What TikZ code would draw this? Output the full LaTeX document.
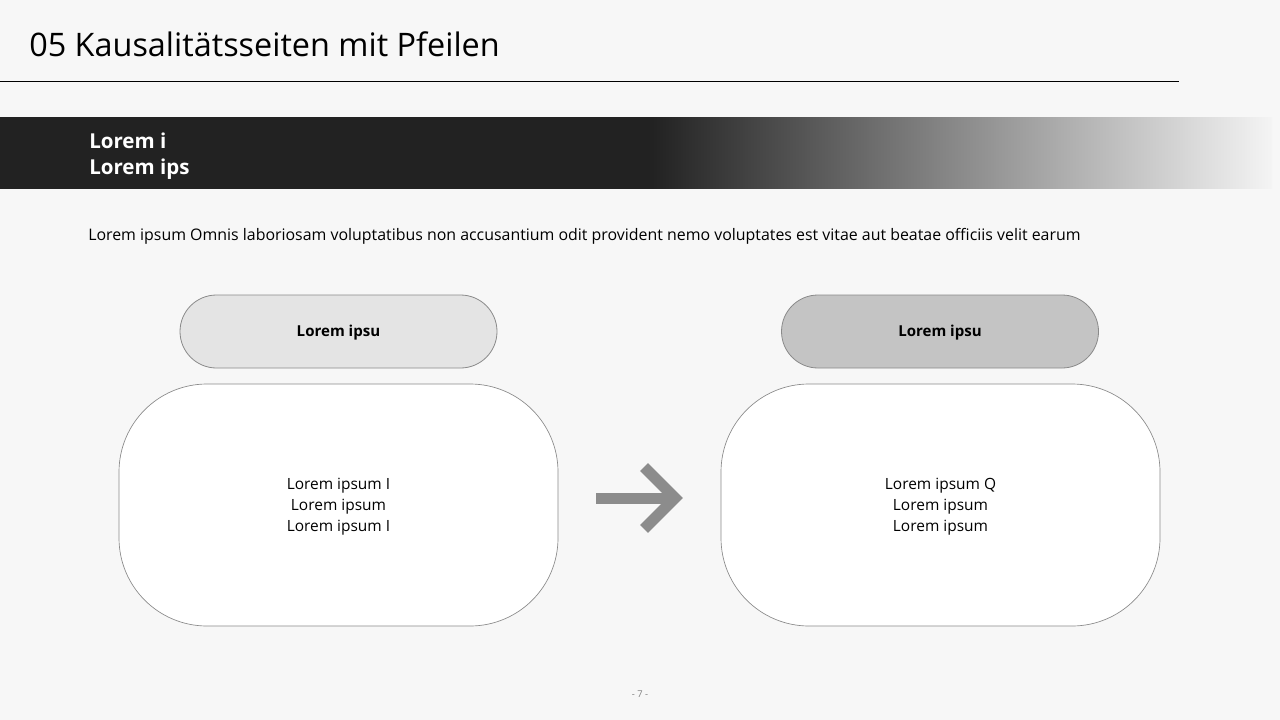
\documentclass[tikz,border=0pt]{standalone}
\usepackage{fontspec}
\setmainfont{Open Sans}
\usetikzlibrary{shapes.misc}
\definecolor{bg}{HTML}{F7F7F7}
\definecolor{band}{HTML}{222222}
\definecolor{bandend}{HTML}{F4F4F4}
\definecolor{pillA}{HTML}{E4E4E4}
\definecolor{pillB}{HTML}{C4C4C4}
\definecolor{edge}{HTML}{8A8A8A}
\definecolor{arrowgray}{HTML}{8C8C8C}
\tikzset{
  pill/.style={draw=edge, line width=0.6pt, rounded rectangle, minimum width=317*0.75pt, minimum height=73*0.75pt, inner sep=0pt},
  pilltext/.style={inner sep=0pt, font=\fontsize{11.3}{14}\selectfont\bfseries},
  bigbox/.style={draw=edge, line width=0.5pt, fill=white, rounded corners=88*0.75pt, minimum width=439*0.75pt, minimum height=242*0.75pt, inner sep=0pt},
  boxtext/.style={align=center, inner sep=0pt, font=\fontsize{11.6}{15.75}\selectfont},
  bandtext/.style={anchor=base west, inner sep=0pt, text=white, font=\fontsize{15.4}{18}\selectfont\bfseries},
}
\begin{document}
\begin{tikzpicture}[x=0.75pt,y=-0.75pt]
\useasboundingbox (0,0) rectangle (1280,720);
\fill[bg] (0,0) rectangle (1280,720);
% title
\node[anchor=base west, inner sep=0pt, font=\fontsize{24.3}{26}\selectfont] (title) at (29,57) {05 Kausalitätsseiten mit Pfeilen};
\coordinate (r1) at (0,82);
\coordinate (r2) at (1179,82);
\draw[black, line width=0.75pt] (r1) -- (r2);
% band
\begin{scope}
\clip (0,118) rectangle (1272,189);
\fill[band] (-10,100) rectangle (653,200);
\shade[left color=band, right color=bandend] (652,100) rectangle (1272,200);
\end{scope}
\node[bandtext] (bt1) at (89,148.5) {Lorem i};
\node[bandtext] (bt2) at (89,174.5) {Lorem ips};
% body text
\node[anchor=base west, inner sep=0pt, font=\fontsize{11.93}{14}\selectfont] (body) at (88,241) {Lorem ipsum Omnis laboriosam voluptatibus non accusantium odit provident nemo voluptates est vitae aut beatae officiis velit earum};
% pills
\node[pill, fill=pillA] (p1) at (338.5,331.5) {};
\node[pill, fill=pillB] (p2) at (940,331.5) {};
\node[pilltext] (p1t) at (338.5,333) {Lorem ipsu};
\node[pilltext] (p2t) at (940,333) {Lorem ipsu};
% big boxes
\node[bigbox] (b1) at (338.5,505) {};
\node[bigbox] (b2) at (940.5,505) {};
\node[boxtext] (b1t) at (338.5,507) {Lorem ipsum I\\Lorem ipsum\\Lorem ipsum I};
\node[boxtext] (b2t) at (940.5,507) {Lorem ipsum Q\\Lorem ipsum\\Lorem ipsum};
% arrow
\coordinate (a0) at (596,498);
\coordinate (a1) at (674,498);
\coordinate (h1) at (644,467);
\coordinate (h2) at (675,498);
\coordinate (h3) at (644,529);
\draw[arrowgray, line width=11*0.75pt] (a0) -- (a1);
\draw[arrowgray, line width=11*0.75pt, miter limit=10] (h1) -- (h2) -- (h3);
% page number
\node[text=gray, font=\fontsize{7}{8}\selectfont] (page) at (640,694) {- 7 -};
\end{tikzpicture}
\end{document}
